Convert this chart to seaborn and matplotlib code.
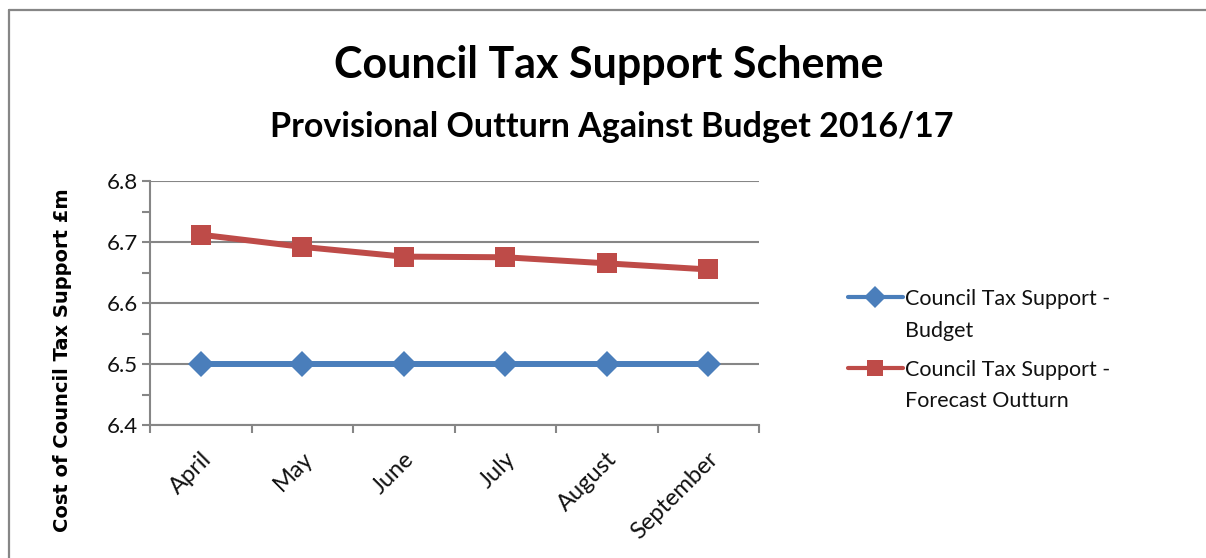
import numpy as np
import pandas as pd
import matplotlib
matplotlib.use("Agg")
import matplotlib.pyplot as plt
from matplotlib.lines import Line2D
from matplotlib.legend_handler import HandlerLine2D
from matplotlib.transforms import ScaledTranslation
import seaborn as sns

# ---- data (£m) ----
months = ["April", "May", "June", "July", "August", "September"]
budget = [6.50, 6.50, 6.50, 6.50, 6.50, 6.50]
forecast = [6.712, 6.692, 6.676, 6.675, 6.665, 6.655]
series_names = ["Council Tax Support -\nBudget",
                "Council Tax Support -\nForecast Outturn"]

title = "Council Tax Support Scheme"
subtitle = "Provisional Outturn Against Budget 2016/17"
ylabel = "Cost of Council Tax Support £m"

BLUE = "#4A7EBB"
RED = "#BE4B48"
GREY = "#868686"

sns.set_theme(style="white")
plt.rcParams["font.family"] = ["Lato", "DejaVu Sans"]

W, H = 1206, 558
fig = plt.figure(figsize=(W / 100, H / 100), dpi=100)
ax = fig.add_axes([150 / W, 1 - 425 / H, (759 - 150) / W, (425 - 181) / H])

pos = np.arange(len(months))
df = pd.DataFrame({"pos": pos, "budget": budget, "forecast": forecast})

sns.lineplot(data=df, x="pos", y="budget", ax=ax, color=BLUE, lw=4.3,
             marker="D", markersize=13, markeredgewidth=0, label=series_names[0])
sns.lineplot(data=df, x="pos", y="forecast", ax=ax, color=RED, lw=4.3,
             marker="s", markersize=15, markeredgewidth=0, label=series_names[1])
ax.get_legend().remove()

# axes and grid
ax.set_xlim(-0.5, len(months) - 0.5)
ax.set_ylim(6.4, 6.8)
yt = np.arange(6.4, 6.81, 0.1)
ax.set_yticks(yt)
ax.set_yticklabels([f"{v:.1f}" for v in yt])
ax.set_yticks(np.arange(6.45, 6.8, 0.1), minor=True)
ax.set_xticks(pos)
ax.set_xticklabels(months, rotation=45, ha="right", va="center",
                   rotation_mode="anchor")
ax.set_xticks(np.arange(-0.5, len(months)), minor=True)
ax.set_xlabel("")
ax.set_ylabel("")

ax.yaxis.grid(True, which="major", color=GREY, lw=1.5)
ax.set_axisbelow(True)
for side in ("top", "right"):
    ax.spines[side].set_visible(False)
for side in ("left", "bottom"):
    ax.spines[side].set_color(GREY)
    ax.spines[side].set_linewidth(1.5)

ax.tick_params(axis="y", which="both", direction="out", length=6, width=1.5,
               color=GREY, left=True, labelsize=16, pad=3)
ax.tick_params(axis="x", which="major", length=0, labelsize=17, pad=22)
ax.tick_params(axis="x", which="minor", direction="out", length=6, width=1.5,
               color=GREY, bottom=True)
shift = ScaledTranslation(7 / 100, 0, fig.dpi_scale_trans)
for lab in ax.get_xticklabels():
    lab.set_transform(lab.get_transform() + shift)
for lab in ax.get_xticklabels() + ax.get_yticklabels():
    lab.set_color("#111111")

# titles
fig.text(0.505, 1 - 78 / H, title, ha="center", va="baseline",
         fontsize=31, fontweight="bold", color="black")
fig.text(0.507, 1 - 137 / H, subtitle, ha="center", va="baseline",
         fontsize=24.5, fontweight="bold", color="black")
fig.text(63 / W, 1 - 360 / H, ylabel, rotation=90, ha="center",
         va="center", fontsize=14, fontweight="bold",
         family=["DejaVu Sans"], color="black")


class FirstLineHandler(HandlerLine2D):
    """Place the legend key level with the first line of a two-line label."""

    def __init__(self, shift, **kw):
        super().__init__(**kw)
        self.shift = shift

    def create_artists(self, legend, orig_handle, xdescent, ydescent, width,
                       height, fontsize, trans):
        arts = super().create_artists(legend, orig_handle, xdescent, ydescent,
                                      width, height, fontsize, trans)
        for a in arts:
            a.set_ydata(np.asarray(a.get_ydata(), dtype=float) + self.shift * fontsize)
        return arts


handles = [
    Line2D([], [], color=BLUE, lw=3, marker="D", markersize=11, markeredgewidth=0),
    Line2D([], [], color=RED, lw=3, marker="s", markersize=12, markeredgewidth=0),
]
leg = fig.legend(handles, series_names, loc="upper left",
                 bbox_to_anchor=(848 / W, 1 - 289 / H),
                 frameon=False, fontsize=15.5, borderpad=0, borderaxespad=0,
                 handlelength=2.55, handletextpad=0.1, labelspacing=0.9,
                 handler_map={Line2D: FirstLineHandler(0.83)})
for t in leg.get_texts():
    t.set_linespacing(1.72)
    t.set_color("#111111")

# outer chart border (top and left edges)
fig.add_artist(Line2D([8.5 / W, 1.0], [1 - 9.5 / H, 1 - 9.5 / H],
                      transform=fig.transFigure, color=GREY, lw=1.6))
fig.add_artist(Line2D([8.5 / W, 8.5 / W], [0.0, 1 - 9.5 / H],
                      transform=fig.transFigure, color=GREY, lw=1.6))

fig.savefig("out.png", dpi=100, facecolor="white")
